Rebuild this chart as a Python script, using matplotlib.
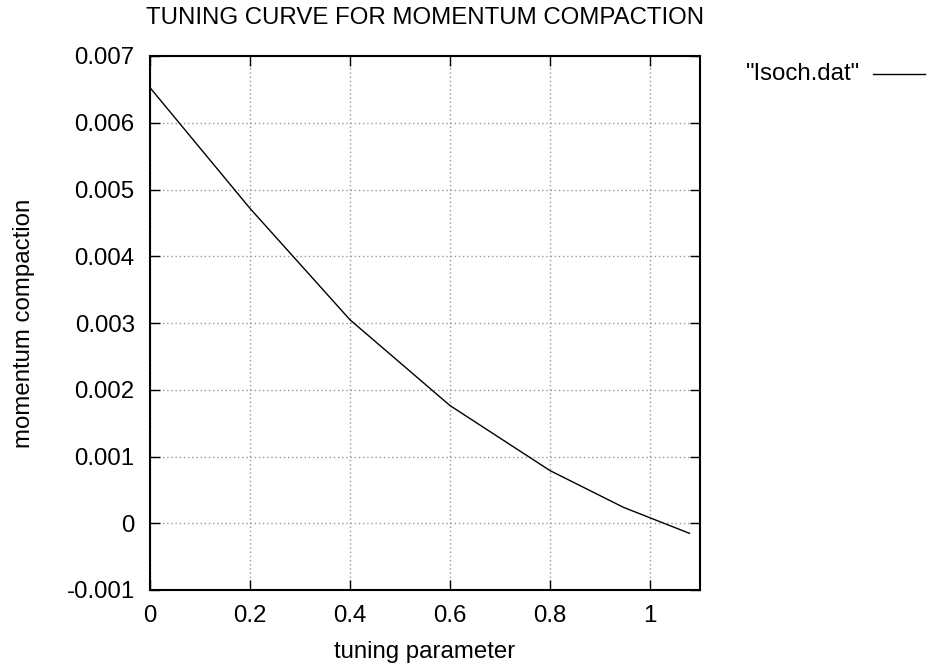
import matplotlib
matplotlib.use("Agg")
import matplotlib.pyplot as plt
from matplotlib.lines import Line2D

plt.rcParams['font.family'] = ['Liberation Sans', 'DejaVu Sans']

tuning = [0.0, 0.2, 0.4, 0.6, 0.8, 0.947, 1.079]
compaction = [0.006526, 0.004717, 0.003048, 0.001763, 0.000789, 0.000238, -0.000151]

xticks = [0, 0.2, 0.4, 0.6, 0.8, 1.0]
xticklabels = ["0", "0.2", "0.4", "0.6", "0.8", "1"]
yticks = [-0.001, 0, 0.001, 0.002, 0.003, 0.004, 0.005, 0.006, 0.007]
yticklabels = ["-0.001", "0", "0.001", "0.002", "0.003", "0.004", "0.005", "0.006", "0.007"]

W, H = 939, 671
fig = plt.figure(figsize=(W / 100, H / 100), dpi=100)
ax = fig.add_axes([150 / W, 1 - 590 / H, 550 / W, 534 / H])

ax.plot(tuning, compaction, color='black', linewidth=1.0)

ax.set_xlim(0, 1.1)
ax.set_ylim(-0.001, 0.007)
ax.set_xticks(xticks)
ax.set_xticklabels(xticklabels)
ax.set_yticks(yticks)
ax.set_yticklabels(yticklabels)

fs = 17.3
ax.tick_params(direction='in', length=7, width=1.0, top=True, right=True,
               labelsize=fs)
ax.tick_params(axis='x', pad=11)
ax.tick_params(axis='y', pad=11)
for s in ax.spines.values():
    s.set_linewidth(1.5)

ax.grid(True, color='#999999', linestyle=(0, (1, 2)), linewidth=1.0)

ax.set_xlabel("tuning parameter", fontsize=fs, labelpad=10)
ax.set_ylabel("momentum compaction", fontsize=fs, labelpad=23)

fig.text(425 / W, 1 - 18.5 / H, "TUNING CURVE FOR MOMENTUM COMPACTION",
         ha='center', va='center', fontsize=fs)

# legend (key on the right, outside the plot)
fig.text(860 / W, 1 - 74 / H, '"Isoch.dat"', ha='right', va='center', fontsize=fs)
fig.add_artist(Line2D([873 / W, 925 / W], [1 - 74 / H, 1 - 74 / H],
                      transform=fig.transFigure, color='black', linewidth=1.0))

fig.savefig("out.png", dpi=100)
